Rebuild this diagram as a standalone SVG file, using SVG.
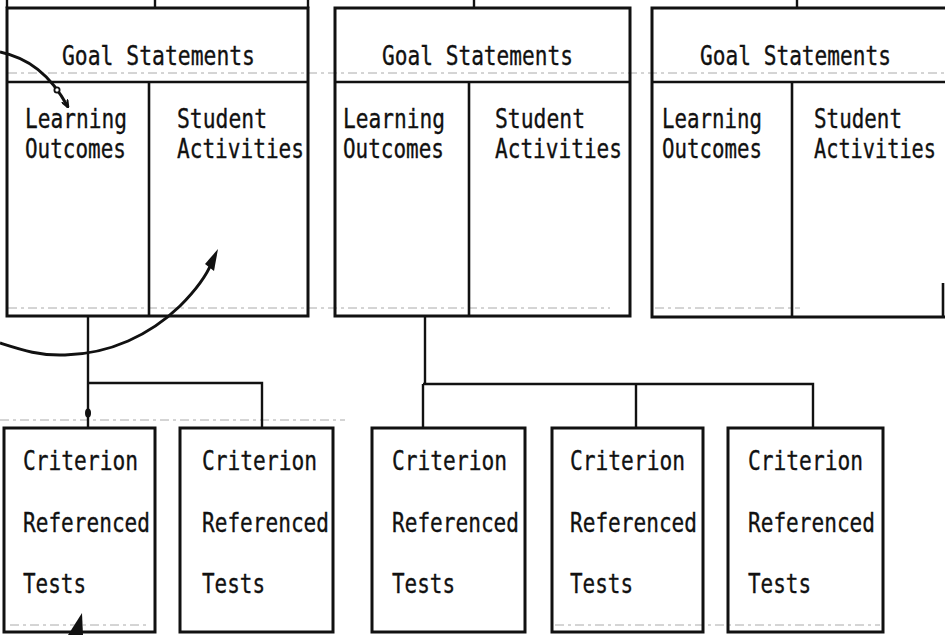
<svg xmlns="http://www.w3.org/2000/svg" width="945" height="635" viewBox="0 0 945 635">
  <style>
    .box { fill: none; stroke: #111; stroke-width: 3; }
    .rule { fill: none; stroke: #111; stroke-width: 2.6; }
    .conn { fill: none; stroke: #111; stroke-width: 2.4; }
    .guide { fill: none; stroke: #aaa; stroke-width: 1; stroke-dasharray: 9 4 3 4; }
    .lbl { font-family: "DejaVu Sans Mono", "Liberation Mono", monospace; font-size: 27px; fill: #111; stroke: #111; stroke-width: 0.35; }
    .curve { fill: none; stroke: #111; stroke-width: 3; }
  </style>
  <defs>
    <marker id="openHead" viewBox="0 0 10 10" refX="9" refY="5" markerWidth="8" markerHeight="8" orient="auto" markerUnits="userSpaceOnUse">
      <path d="M0,1 L10,5 L0,9" fill="none" stroke="#111" stroke-width="2.4"/>
    </marker>
  </defs>
  <rect width="945" height="635" fill="#fff"/>

  <!-- faint typewriter guide lines -->
  <g id="guides">
    <line class="guide" x1="8" y1="73" x2="945" y2="73"/>
    <line class="guide" x1="8" y1="308" x2="610" y2="308"/>
    <line class="guide" x1="655" y1="308" x2="800" y2="308"/>
    <line class="guide" x1="0" y1="420" x2="345" y2="420"/>
    <line class="guide" x1="10" y1="625" x2="150" y2="625"/>
    <line class="guide" x1="555" y1="625" x2="880" y2="625"/>
  </g>

  <!-- upper units: goal statements split into outcomes and activities -->
  <g id="unit1">
    <rect class="box" x="7" y="8" width="301" height="308"/>
    <line class="rule" x1="7" y1="82" x2="308" y2="82"/>
    <line class="rule" x1="149" y1="82" x2="149" y2="316"/>
    <text class="lbl" x="62" y="65" textLength="193" lengthAdjust="spacingAndGlyphs">Goal Statements</text>
    <text class="lbl" x="25" y="128" textLength="102" lengthAdjust="spacingAndGlyphs">Learning</text>
    <text class="lbl" x="25" y="158" textLength="101" lengthAdjust="spacingAndGlyphs">Outcomes</text>
    <text class="lbl" x="177" y="128" textLength="90" lengthAdjust="spacingAndGlyphs">Student</text>
    <text class="lbl" x="177" y="158" textLength="127" lengthAdjust="spacingAndGlyphs">Activities</text>
  </g>
  <g id="unit2">
    <rect class="box" x="335" y="8" width="295" height="308"/>
    <line class="rule" x1="335" y1="82" x2="630" y2="82"/>
    <line class="rule" x1="469" y1="82" x2="469" y2="316"/>
    <text class="lbl" x="382" y="65" textLength="191" lengthAdjust="spacingAndGlyphs">Goal Statements</text>
    <text class="lbl" x="343" y="128" textLength="102" lengthAdjust="spacingAndGlyphs">Learning</text>
    <text class="lbl" x="343" y="158" textLength="101" lengthAdjust="spacingAndGlyphs">Outcomes</text>
    <text class="lbl" x="495" y="128" textLength="90" lengthAdjust="spacingAndGlyphs">Student</text>
    <text class="lbl" x="495" y="158" textLength="127" lengthAdjust="spacingAndGlyphs">Activities</text>
  </g>
  <g id="unit3">
    <path class="box" d="M947,8 H652 V317 H947"/>
    <line class="rule" x1="652" y1="82" x2="945" y2="82"/>
    <line class="rule" x1="792" y1="82" x2="792" y2="317"/>
    <line class="rule" x1="943" y1="283" x2="943" y2="317"/>
    <text class="lbl" x="700" y="65" textLength="191" lengthAdjust="spacingAndGlyphs">Goal Statements</text>
    <text class="lbl" x="662" y="128" textLength="100" lengthAdjust="spacingAndGlyphs">Learning</text>
    <text class="lbl" x="662" y="158" textLength="100" lengthAdjust="spacingAndGlyphs">Outcomes</text>
    <text class="lbl" x="814" y="128" textLength="88" lengthAdjust="spacingAndGlyphs">Student</text>
    <text class="lbl" x="814" y="158" textLength="122" lengthAdjust="spacingAndGlyphs">Activities</text>
  </g>

  <!-- criterion referenced test boxes -->
  <g id="test1">
    <rect class="box" x="4" y="428" width="151" height="204"/>
    <text class="lbl" x="23" y="470" textLength="115" lengthAdjust="spacingAndGlyphs">Criterion</text>
    <text class="lbl" x="23" y="532" textLength="127" lengthAdjust="spacingAndGlyphs">Referenced</text>
    <text class="lbl" x="23" y="593" textLength="63" lengthAdjust="spacingAndGlyphs">Tests</text>
  </g>
  <g id="test2">
    <rect class="box" x="180" y="428" width="153" height="204"/>
    <text class="lbl" x="202" y="470" textLength="115" lengthAdjust="spacingAndGlyphs">Criterion</text>
    <text class="lbl" x="202" y="532" textLength="127" lengthAdjust="spacingAndGlyphs">Referenced</text>
    <text class="lbl" x="202" y="593" textLength="63" lengthAdjust="spacingAndGlyphs">Tests</text>
  </g>
  <g id="test3">
    <rect class="box" x="372" y="428" width="153" height="204"/>
    <text class="lbl" x="392" y="470" textLength="115" lengthAdjust="spacingAndGlyphs">Criterion</text>
    <text class="lbl" x="392" y="532" textLength="127" lengthAdjust="spacingAndGlyphs">Referenced</text>
    <text class="lbl" x="392" y="593" textLength="63" lengthAdjust="spacingAndGlyphs">Tests</text>
  </g>
  <g id="test4">
    <rect class="box" x="552" y="428" width="151" height="204"/>
    <text class="lbl" x="570" y="470" textLength="115" lengthAdjust="spacingAndGlyphs">Criterion</text>
    <text class="lbl" x="570" y="532" textLength="127" lengthAdjust="spacingAndGlyphs">Referenced</text>
    <text class="lbl" x="570" y="593" textLength="63" lengthAdjust="spacingAndGlyphs">Tests</text>
  </g>
  <g id="test5">
    <rect class="box" x="728" y="428" width="155" height="204"/>
    <text class="lbl" x="748" y="470" textLength="115" lengthAdjust="spacingAndGlyphs">Criterion</text>
    <text class="lbl" x="748" y="532" textLength="127" lengthAdjust="spacingAndGlyphs">Referenced</text>
    <text class="lbl" x="748" y="593" textLength="63" lengthAdjust="spacingAndGlyphs">Tests</text>
  </g>

  <!-- connectors -->
  <g id="connectors">
    <!-- stubs up to the level above -->
    <line class="conn" x1="155" y1="0" x2="155" y2="8"/>
    <line class="conn" x1="474" y1="0" x2="474" y2="8"/>
    <line class="conn" x1="797" y1="0" x2="797" y2="8"/>
    <line class="conn" x1="7" y1="0" x2="7" y2="8"/>
    <line class="conn" x1="308" y1="0" x2="308" y2="8"/>
    <!-- unit 1 to its tests -->
    <path class="conn" d="M88,316 V428 M88,383 H262 V428"/>
    <ellipse cx="88" cy="413" rx="3" ry="4.5" fill="#111"/>
    <!-- unit 2 to its tests -->
    <path class="conn" d="M425,316 V384 M423,384 H813 V428 M423,384 V428 M636,384 V428"/>

    <!-- curved feedback arrows -->
    <path class="curve" d="M0,52 C28,58 50,74 68,107" marker-end="url(#openHead)"/>
    <circle cx="57" cy="90" r="2.6" fill="#fff" stroke="#111" stroke-width="1.8"/>
    <path class="curve" d="M0,343 C22,350 40,356 65,355 C110,354 150,335 180,306 C198,288 208,272 212,262"/>
    <polygon points="218,249 205,264 214,271" fill="#111"/>
    <polygon points="82,613 68,635 83,635" fill="#111"/>
  </g>
</svg>
